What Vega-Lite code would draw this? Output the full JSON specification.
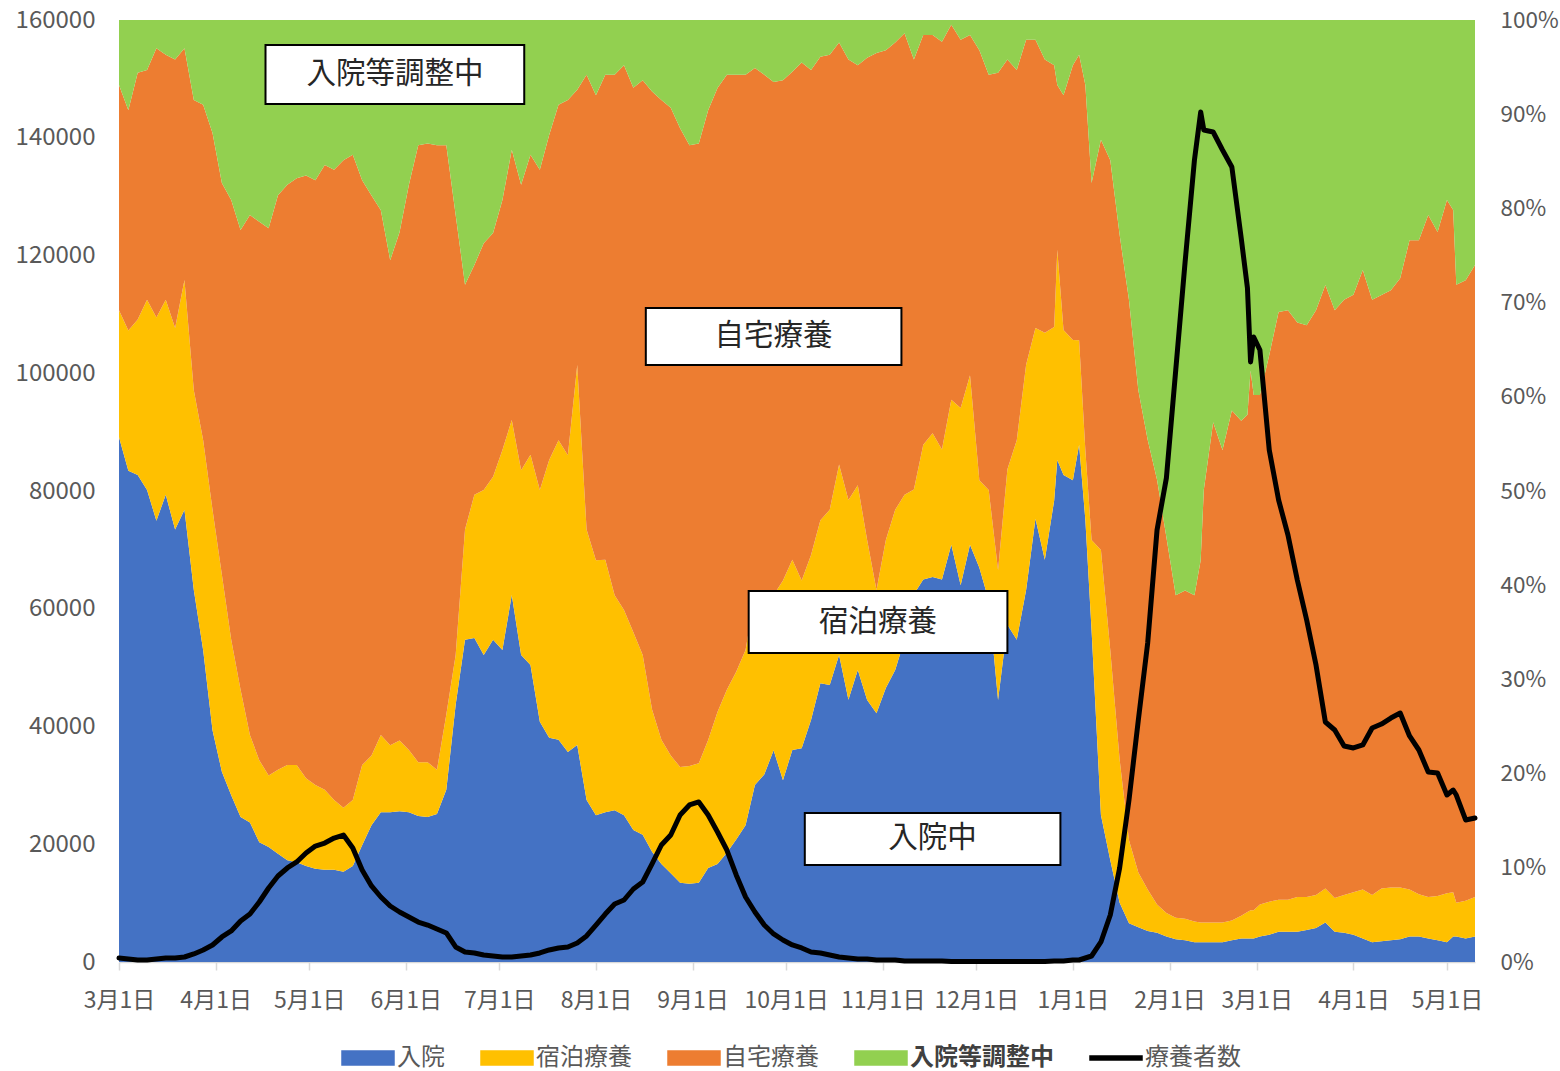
{
"$schema": "https://vega.github.io/schema/vega-lite/v6.json",
"width": 1356, "height": 942,
"autosize": {"type": "none"},
"padding": {"left": 119, "top": 20, "right": 85, "bottom": 109},
"background": "white",
"config": {"view": {"stroke": null}, "font": "Noto Sans CJK JP",
  "axis": {"labelFont": "Noto Sans CJK JP", "labelFontSize": 24, "labelColor": "#595959", "grid": false},
  "axisX": {"labelFontSize": 23}},
"datasets": {
"cats": [{"category":"入院","o":1},{"category":"宿泊療養","o":2},{"category":"自宅療養","o":3},{"category":"入院等調整中","o":4}],
"main": [
{"d":"2021-03-01","入院":55.7,"宿泊療養":13.5,"自宅療養":23.9,"入院等調整中":6.9,"療養者数":680},
{"d":"2021-03-04","入院":52.2,"宿泊療養":14.9,"自宅療養":23.4,"入院等調整中":9.6,"療養者数":510},
{"d":"2021-03-07","入院":51.7,"宿泊療養":16.5,"自宅療養":26.2,"入院等調整中":5.6,"療養者数":340},
{"d":"2021-03-10","入院":50.1,"宿泊療養":20.2,"自宅療養":24.4,"入院等調整中":5.3,"療養者数":340},
{"d":"2021-03-13","入院":46.9,"宿泊療養":21.6,"自宅療養":28.6,"入院等調整中":3.0,"療養者数":510},
{"d":"2021-03-16","入院":49.6,"宿泊療養":20.7,"自宅療養":26.0,"入院等調整中":3.7,"療養者数":680},
{"d":"2021-03-19","入院":45.9,"宿泊療養":21.4,"自宅療養":28.5,"入院等調整中":4.2,"療養者数":680},
{"d":"2021-03-22","入院":48.0,"宿泊療養":24.4,"自宅療養":24.6,"入院等調整中":3.0,"療養者数":850},
{"d":"2021-03-25","入院":39.5,"宿泊療養":21.2,"自宅療養":30.8,"入院等調整中":8.5,"療養者数":1360},
{"d":"2021-03-28","入院":33.1,"宿泊療養":22.3,"自宅療養":35.6,"入院等調整中":9.0,"療養者数":2040},
{"d":"2021-03-31","入院":24.6,"宿泊療養":23.4,"自宅療養":40.0,"入院等調整中":12.0,"療養者数":2890},
{"d":"2021-04-03","入院":20.2,"宿泊療養":20.9,"自宅療養":41.6,"入院等調整中":17.3,"療養者数":4250},
{"d":"2021-04-06","入院":17.7,"宿泊療養":16.5,"自宅療養":46.7,"入院等調整中":19.1,"療養者数":5270},
{"d":"2021-04-09","入院":15.4,"宿泊療養":13.5,"自宅療養":48.8,"入院等調整中":22.3,"療養者数":6960},
{"d":"2021-04-12","入院":14.8,"宿泊療養":9.3,"自宅療養":55.2,"入院等調整中":20.7,"療養者数":8150},
{"d":"2021-04-15","入院":12.7,"宿泊療養":8.7,"自宅療養":57.1,"入院等調整中":21.4,"療養者数":10190},
{"d":"2021-04-18","入院":12.2,"宿泊療養":7.6,"自宅療養":58.1,"入院等調整中":22.1,"療養者数":12570},
{"d":"2021-04-21","入院":11.5,"宿泊療養":8.9,"自宅療養":61.0,"入院等調整中":18.6,"療養者数":14610},
{"d":"2021-04-24","入院":10.8,"宿泊療養":10.1,"自宅療養":61.6,"入院等調整中":17.5,"療養者数":15970},
{"d":"2021-04-27","入院":10.6,"宿泊療養":10.3,"自宅療養":62.3,"入院等調整中":16.8,"療養者数":16990},
{"d":"2021-04-30","入院":10.2,"宿泊療養":9.3,"自宅療養":64.0,"入院等調整中":16.5,"療養者数":18510},
{"d":"2021-05-03","入院":9.9,"宿泊療養":8.9,"自宅療養":64.2,"入院等調整中":17.0,"療養者数":19700},
{"d":"2021-05-06","入院":9.8,"宿泊療養":8.5,"自宅療養":66.4,"入院等調整中":15.4,"療養者数":20210},
{"d":"2021-05-09","入院":9.8,"宿泊療養":7.4,"自宅療養":66.9,"入院等調整中":15.9,"療養者数":21060},
{"d":"2021-05-12","入院":9.6,"宿泊療養":6.8,"自宅療養":68.8,"入院等調整中":14.9,"療養者数":21570},
{"d":"2021-05-15","入院":10.2,"宿泊療養":7.0,"自宅療養":68.5,"入院等調整中":14.3,"療養者数":19360},
{"d":"2021-05-18","入院":12.4,"宿泊療養":8.5,"自宅療養":62.1,"入院等調整中":17.0,"療養者数":15630},
{"d":"2021-05-21","入院":14.5,"宿泊療養":7.4,"自宅療養":59.4,"入院等調整中":18.6,"療養者数":12910},
{"d":"2021-05-24","入院":15.9,"宿泊療養":8.2,"自宅療養":55.7,"入院等調整中":20.2,"療養者数":11040},
{"d":"2021-05-27","入院":15.9,"宿泊療養":7.1,"自宅療養":51.5,"入院等調整中":25.5,"療養者数":9510},
{"d":"2021-05-30","入院":16.0,"宿泊療養":7.5,"自宅療養":53.9,"入院等調整中":22.5,"療養者数":8490},
{"d":"2021-06-02","入院":15.9,"宿泊療養":6.6,"自宅療養":60.0,"入院等調整中":17.5,"療養者数":7640},
{"d":"2021-06-05","入院":15.5,"宿泊療養":5.7,"自宅療養":65.5,"入院等調整中":13.3,"療養者数":6790},
{"d":"2021-06-08","入院":15.4,"宿泊療養":5.8,"自宅療養":65.7,"入院等調整中":13.1,"療養者数":6280},
{"d":"2021-06-11","入院":15.7,"宿泊療養":4.7,"自宅療養":66.3,"入院等調整中":13.3,"療養者数":5610},
{"d":"2021-06-14","入院":18.3,"宿泊療養":8.0,"自宅療養":60.5,"入院等調整中":13.3,"療養者数":4930},
{"d":"2021-06-17","入院":27.3,"宿泊療養":5.3,"自宅療養":46.7,"入院等調整中":20.7,"療養者数":2550},
{"d":"2021-06-20","入院":34.2,"宿泊療養":11.7,"自宅療養":26.0,"入院等調整中":28.1,"療養者数":1700},
{"d":"2021-06-23","入院":34.4,"宿泊療養":15.2,"自宅療養":24.4,"入院等調整中":26.0,"療養者数":1530},
{"d":"2021-06-26","入院":32.6,"宿泊療養":17.5,"自宅療養":26.2,"入院等調整中":23.7,"療養者数":1190},
{"d":"2021-06-29","入院":34.2,"宿泊療養":17.3,"自宅療養":25.9,"入院等調整中":22.6,"療養者数":1020},
{"d":"2021-07-02","入院":33.1,"宿泊療養":21.2,"自宅療養":26.5,"入院等調整中":19.1,"療養者数":850},
{"d":"2021-07-05","入院":39.0,"宿泊療養":18.6,"自宅療養":28.7,"入院等調整中":13.8,"療養者数":850},
{"d":"2021-07-08","入院":32.6,"宿泊療養":19.6,"自宅療養":30.3,"入院等調整中":17.5,"療養者数":1020},
{"d":"2021-07-11","入院":31.5,"宿泊療養":22.3,"自宅療養":31.8,"入院等調整中":14.3,"療養者数":1190},
{"d":"2021-07-14","入院":25.5,"宿泊療養":24.6,"自宅療養":34.0,"入院等調整中":15.9,"療養者数":1530},
{"d":"2021-07-17","入院":23.8,"宿泊療養":29.5,"自宅療養":34.5,"入院等調整中":12.2,"療養者数":2040},
{"d":"2021-07-20","入院":23.6,"宿泊療養":31.8,"自宅療養":35.6,"入院等調整中":9.0,"療養者数":2380},
{"d":"2021-07-23","入院":22.3,"宿泊療養":31.5,"自宅療養":37.7,"入院等調整中":8.5,"療養者数":2550},
{"d":"2021-07-26","入院":23.0,"宿泊療養":40.3,"自宅療養":29.2,"入院等調整中":7.4,"療養者数":3230},
{"d":"2021-07-29","入院":17.2,"宿泊療養":28.7,"自宅療養":48.3,"入院等調整中":5.8,"療養者数":4420},
{"d":"2021-08-01","入院":15.6,"宿泊療養":27.1,"自宅療養":49.4,"入院等調整中":8.0,"療養者数":6280},
{"d":"2021-08-04","入院":15.9,"宿泊療養":26.8,"自宅療養":51.5,"入院等調整中":5.8,"療養者数":8150},
{"d":"2021-08-07","入院":16.1,"宿泊療養":22.8,"自宅療養":55.2,"入院等調整中":5.8,"療養者数":9850},
{"d":"2021-08-10","入院":15.6,"宿泊療養":21.8,"自宅療養":57.9,"入院等調整中":4.8,"療養者数":10530},
{"d":"2021-08-13","入院":14.0,"宿泊療養":21.0,"自宅療養":57.8,"入院等調整中":7.2,"療養者数":12400},
{"d":"2021-08-16","入院":13.5,"宿泊療養":19.1,"自宅療養":61.0,"入院等調整中":6.4,"療養者数":13590},
{"d":"2021-08-19","入院":11.7,"宿泊療養":15.1,"自宅療養":65.6,"入院等調整中":7.6,"療養者数":16650},
{"d":"2021-08-22","入院":10.4,"宿泊療養":13.2,"自宅療養":67.9,"入院等調整中":8.5,"療養者数":19870},
{"d":"2021-08-25","入院":9.4,"宿泊療養":12.5,"自宅療養":68.7,"入院等調整中":9.3,"療養者数":21570},
{"d":"2021-08-28","入院":8.4,"宿泊療養":12.3,"自宅療養":67.8,"入院等調整中":11.5,"療養者数":24970},
{"d":"2021-08-31","入院":8.3,"宿泊療養":12.5,"自宅療養":65.9,"入院等調整中":13.3,"療養者数":26670},
{"d":"2021-09-03","入院":8.4,"宿泊療養":12.7,"自宅療養":65.8,"入院等調整中":13.1,"療養者数":27180},
{"d":"2021-09-06","入院":10.0,"宿泊療養":13.6,"自宅療養":66.9,"入院等調整中":9.6,"療養者数":24970},
{"d":"2021-09-09","入院":10.4,"宿泊療養":16.1,"自宅療養":66.2,"入院等調整中":7.2,"療養者数":22080},
{"d":"2021-09-12","入院":11.6,"宿泊療養":17.3,"自宅療養":65.3,"入院等調整中":5.8,"療養者数":19020},
{"d":"2021-09-15","入院":13.0,"宿泊療養":17.8,"自宅療養":63.4,"入院等調整中":5.8,"療養者数":14780},
{"d":"2021-09-18","入院":14.5,"宿泊療養":18.6,"自宅療養":61.0,"入院等調整中":5.8,"療養者数":11040},
{"d":"2021-09-21","入院":18.8,"宿泊療養":20.2,"自宅療養":55.9,"入院等調整中":5.1,"療養者数":8490},
{"d":"2021-09-24","入院":19.9,"宿泊療養":19.6,"自宅療養":54.7,"入院等調整中":5.8,"療養者数":6280},
{"d":"2021-09-27","入院":22.5,"宿泊療養":16.5,"自宅療養":54.5,"入院等調整中":6.6,"療養者数":4760},
{"d":"2021-09-30","入院":19.3,"宿泊療養":21.2,"自宅療養":53.1,"入院等調整中":6.4,"療養者数":3740},
{"d":"2021-10-03","入院":22.5,"宿泊療養":20.2,"自宅療養":51.8,"入院等調整中":5.5,"療養者数":2890},
{"d":"2021-10-06","入院":22.7,"宿泊療養":17.8,"自宅療養":55.0,"入院等調整中":4.5,"療養者数":2380},
{"d":"2021-10-09","入院":25.7,"宿泊療養":17.5,"自宅療養":51.5,"入院等調整中":5.3,"療養者数":1700},
{"d":"2021-10-12","入院":29.6,"宿泊療養":17.3,"自宅療養":49.2,"入院等調整中":3.9,"療養者数":1530},
{"d":"2021-10-15","入院":29.4,"宿泊療養":18.6,"自宅療養":48.3,"入院等調整中":3.7,"療養者数":1190},
{"d":"2021-10-18","入院":32.6,"宿泊療養":20.2,"自宅療養":44.8,"入院等調整中":2.4,"療養者数":850},
{"d":"2021-10-21","入院":27.8,"宿泊療養":21.2,"自宅療養":46.7,"入院等調整中":4.2,"療養者数":680},
{"d":"2021-10-24","入院":31.0,"宿泊療養":19.6,"自宅療養":44.6,"入院等調整中":4.8,"療養者数":510},
{"d":"2021-10-27","入院":27.8,"宿泊療養":17.0,"自宅療養":51.2,"入院等調整中":4.0,"療養者数":510},
{"d":"2021-10-30","入院":26.4,"宿泊療養":13.1,"自宅療養":57.0,"入院等調整中":3.5,"療養者数":340},
{"d":"2021-11-02","入院":29.1,"宿泊療養":15.7,"自宅療養":52.0,"入院等調整中":3.2,"療養者数":340},
{"d":"2021-11-05","入院":31.0,"宿泊療養":17.0,"自宅療養":49.6,"入院等調整中":2.4,"療養者数":340},
{"d":"2021-11-08","入院":34.2,"宿泊療養":15.4,"自宅療養":49.0,"入院等調整中":1.4,"療養者数":170},
{"d":"2021-11-11","入院":39.0,"宿泊療養":11.1,"自宅療養":45.6,"入院等調整中":4.2,"療養者数":170},
{"d":"2021-11-14","入院":40.6,"宿泊療養":14.3,"自宅療養":43.5,"入院等調整中":1.6,"療養者数":170},
{"d":"2021-11-17","入院":40.9,"宿泊療養":15.3,"自宅療養":42.3,"入院等調整中":1.6,"療養者数":170},
{"d":"2021-11-20","入院":40.6,"宿泊療養":13.8,"自宅療養":43.3,"入院等調整中":2.3,"療養者数":170},
{"d":"2021-11-23","入院":44.3,"宿泊療養":15.4,"自宅療養":39.8,"入院等調整中":0.5,"療養者数":100},
{"d":"2021-11-26","入院":40.0,"宿泊療養":18.8,"自宅療養":39.1,"入院等調整中":2.1,"療養者数":80},
{"d":"2021-11-29","入院":44.3,"宿泊療養":18.0,"自宅療養":36.1,"入院等調整中":1.6,"療養者数":80},
{"d":"2021-12-02","入院":41.8,"宿泊療養":9.3,"自宅療養":45.6,"入院等調整中":3.2,"療養者数":80},
{"d":"2021-12-05","入院":38.4,"宿泊療養":11.7,"自宅療養":44.1,"入院等調整中":5.8,"療養者数":80},
{"d":"2021-12-08","入院":27.8,"宿泊療養":13.8,"自宅療養":52.8,"入院等調整中":5.6,"療養者数":80},
{"d":"2021-12-11","入院":35.8,"宿泊療養":16.5,"自宅療養":43.5,"入院等調整中":4.2,"療養者数":80},
{"d":"2021-12-14","入院":34.2,"宿泊療養":21.2,"自宅療養":39.3,"入院等調整中":5.3,"療養者数":80},
{"d":"2021-12-17","入院":39.5,"宿泊療養":23.9,"自宅療養":34.5,"入院等調整中":2.1,"療養者数":80},
{"d":"2021-12-20","入院":46.9,"宿泊療養":20.2,"自宅療養":30.5,"入院等調整中":2.1,"療養者数":80},
{"d":"2021-12-23","入院":42.7,"宿泊療養":24.1,"自宅療養":29.0,"入院等調整中":4.2,"療養者数":100},
{"d":"2021-12-26","入院":49.0,"宿泊療養":18.4,"自宅療養":27.8,"入院等調整中":4.8,"療養者数":170},
{"d":"2021-12-27","入院":53.3,"宿泊療養":22.3,"自宅療養":17.5,"入院等調整中":6.9,"療養者数":170},
{"d":"2021-12-29","入院":51.7,"宿泊療養":15.4,"自宅療養":24.9,"入院等調整中":8.0,"療養者数":170},
{"d":"2022-01-01","入院":51.2,"宿泊療養":14.9,"自宅療養":29.2,"入院等調整中":4.8,"療養者数":340},
{"d":"2022-01-03","入院":54.9,"宿泊療養":11.1,"自宅療養":30.3,"入院等調整中":3.7,"療養者数":340},
{"d":"2022-01-05","入院":46.9,"宿泊療養":7.4,"自宅療養":38.7,"入院等調整中":6.9,"療養者数":680},
{"d":"2022-01-07","入院":35.2,"宿泊療養":9.6,"自宅療養":37.9,"入院等調整中":17.3,"療養者数":1020},
{"d":"2022-01-10","入院":15.6,"宿泊療養":28.1,"自宅療養":43.5,"入院等調整中":12.7,"療養者数":3400},
{"d":"2022-01-13","入院":10.8,"宿泊療養":22.3,"自宅療養":52.0,"入院等調整中":14.9,"療養者数":7980},
{"d":"2022-01-16","入院":6.3,"宿泊療養":15.2,"自宅療養":55.7,"入院等調整中":22.8,"療養者数":15970},
{"d":"2022-01-19","入院":4.1,"宿泊療養":8.8,"自宅療養":57.3,"入院等調整中":29.7,"療養者数":27520},
{"d":"2022-01-22","入院":3.7,"宿泊療養":5.8,"自宅療養":51.2,"入院等調整中":39.3,"療養者数":41100},
{"d":"2022-01-25","入院":3.3,"宿泊療養":4.4,"自宅療養":47.8,"入院等調整中":44.6,"療養者数":54180},
{"d":"2022-01-28","入院":3.1,"宿泊療養":3.0,"自宅療養":45.1,"入院等調整中":48.8,"療養者数":73380},
{"d":"2022-01-31","入院":2.7,"宿泊療養":2.5,"自宅療養":39.9,"入院等調整中":54.9,"療養者数":82210},
{"d":"2022-02-03","入院":2.4,"宿泊療養":2.3,"自宅療養":34.2,"入院等調整中":61.0,"療養者数":100550},
{"d":"2022-02-06","入院":2.3,"宿泊療養":2.3,"自宅療養":34.8,"入院等調整中":60.5,"療養者数":118900},
{"d":"2022-02-09","入院":2.1,"宿泊療養":2.2,"自宅療養":34.6,"入院等調整中":61.0,"療養者数":136220},
{"d":"2022-02-11","入院":2.1,"宿泊療養":2.1,"自宅療養":38.4,"入院等調整中":57.3,"療養者数":144370},
{"d":"2022-02-12","入院":2.1,"宿泊療養":2.1,"自宅療養":45.9,"入院等調整中":49.9,"療養者数":141310},
{"d":"2022-02-15","入院":2.1,"宿泊療養":2.1,"自宅療養":53.1,"入院等調整中":42.7,"療養者数":140980},
{"d":"2022-02-18","入院":2.1,"宿泊療養":2.1,"自宅療養":50.1,"入院等調整中":45.6,"療養者数":137920},
{"d":"2022-02-21","入院":2.3,"宿泊療養":2.1,"自宅療養":54.1,"入院等調整中":41.4,"療養者数":135030},
{"d":"2022-02-24","入院":2.5,"宿泊療養":2.4,"自宅療養":52.5,"入院等調整中":42.5,"療養者数":122970},
{"d":"2022-02-26","入院":2.5,"宿泊療養":2.8,"自宅療養":52.8,"入院等調整中":41.9,"療養者数":114480},
{"d":"2022-02-27","入院":2.5,"宿泊療養":3.0,"自宅療養":57.3,"入院等調整中":37.2,"療養者数":101910},
{"d":"2022-02-28","入院":2.5,"宿泊療養":3.0,"自宅療養":54.7,"入院等調整中":39.8,"療養者数":106160},
{"d":"2022-03-02","入院":2.7,"宿泊療養":3.4,"自宅療養":54.1,"入院等調整中":39.8,"療養者数":103950},
{"d":"2022-03-05","入院":2.9,"宿泊療養":3.5,"自宅療養":58.1,"入院等調整中":35.6,"療養者数":86960},
{"d":"2022-03-08","入院":3.2,"宿泊療養":3.4,"自宅療養":62.4,"入院等調整中":31.0,"療養者数":78470},
{"d":"2022-03-11","入院":3.2,"宿泊療養":3.4,"自宅療養":62.6,"入院等調整中":30.8,"療養者数":72530},
{"d":"2022-03-14","入院":3.2,"宿泊療養":3.7,"自宅療養":61.0,"入院等調整中":32.1,"療養者数":64880},
{"d":"2022-03-17","入院":3.4,"宿泊療養":3.5,"自宅療養":60.7,"入院等調整中":32.4,"療養者数":58090},
{"d":"2022-03-20","入院":3.6,"宿泊療養":3.5,"自宅療養":62.1,"入院等調整中":30.8,"療養者数":50440},
{"d":"2022-03-23","入院":4.2,"宿泊療養":3.6,"自宅療養":64.0,"入院等調整中":28.1,"療養者数":40760},
{"d":"2022-03-26","入院":3.2,"宿泊療養":3.6,"自宅療養":62.4,"入院等調整中":30.8,"療養者数":39410},
{"d":"2022-03-29","入院":3.1,"宿泊療養":4.0,"自宅療養":63.2,"入院等調整中":29.7,"療養者数":36690},
{"d":"2022-04-01","入院":2.9,"宿泊療養":4.5,"自宅療養":63.5,"入院等調整中":29.2,"療養者数":36350},
{"d":"2022-04-04","入院":2.5,"宿泊療養":5.2,"自宅療養":65.7,"入院等調整中":26.5,"療養者数":36860},
{"d":"2022-04-07","入院":2.1,"宿泊療養":5.0,"自宅療養":63.2,"入院等調整中":29.7,"療養者数":39740},
{"d":"2022-04-10","入院":2.2,"宿泊療養":5.6,"自宅療養":63.0,"入院等調整中":29.2,"療養者数":40420},
{"d":"2022-04-13","入院":2.3,"宿泊療養":5.6,"自宅療養":63.4,"入院等調整中":28.7,"療養者数":41440},
{"d":"2022-04-16","入院":2.4,"宿泊療養":5.5,"自宅療養":64.6,"入院等調整中":27.4,"療養者数":42290},
{"d":"2022-04-19","入院":2.7,"宿泊療養":5.0,"自宅療養":69.0,"入院等調整中":23.4,"療養者数":38390},
{"d":"2022-04-22","入院":2.7,"宿泊療養":4.5,"自宅療養":69.5,"入院等調整中":23.4,"療養者数":36010},
{"d":"2022-04-25","入院":2.5,"宿泊療養":4.4,"自宅療養":72.4,"入院等調整中":20.7,"療養者数":32270},
{"d":"2022-04-28","入院":2.3,"宿泊療養":4.7,"自宅療養":70.5,"入院等調整中":22.5,"療養者数":32100},
{"d":"2022-05-01","入院":2.1,"宿泊療養":5.2,"自宅療養":73.6,"入院等調整中":19.1,"療養者数":28360},
{"d":"2022-05-03","入院":2.7,"宿泊療養":4.7,"自宅療養":72.5,"入院等調整中":20.2,"療養者数":29210},
{"d":"2022-05-04","入院":2.7,"宿泊療養":3.6,"自宅療養":65.6,"入院等調整中":28.1,"療養者数":28360},
{"d":"2022-05-07","入院":2.5,"宿泊療養":4.0,"自宅療養":65.8,"入院等調整中":27.6,"療養者数":24120},
{"d":"2022-05-10","入院":2.7,"宿泊療養":4.2,"自宅療養":67.1,"入院等調整中":26.0,"療養者数":24460}
],
"boxes": [
{"label":"入院等調整中","x1":"2021-04-17","x2":"2021-07-09","xc":"2021-05-28T12:00:00Z","y1":0.9735,"y2":0.9108,"yc":0.9427},
{"label":"自宅療養","x1":"2021-08-17","x2":"2021-11-07","xc":"2021-09-27T00:00:00Z","y1":0.6943,"y2":0.6338,"yc":0.6645},
{"label":"宿泊療養","x1":"2021-09-19","x2":"2021-12-11","xc":"2021-10-30T12:00:00Z","y1":0.3938,"y2":0.3280,"yc":0.3609},
{"label":"入院中","x1":"2021-10-07","x2":"2021-12-28","xc":"2021-11-17T00:00:00Z","y1":0.1582,"y2":0.1030,"yc":0.1316}
]
},
"layer": [
{"layer": [
  {"data": {"name": "main"},
   "transform": [
     {"fold": ["入院","宿泊療養","自宅療養","入院等調整中"], "as": ["category","share"]},
     {"lookup": "category", "from": {"data": {"name": "cats"}, "key": "category", "fields": ["o"]}}
   ],
   "mark": {"type": "area", "interpolate": "linear"},
   "encoding": {
     "x": {"field": "d", "type": "temporal", "title": null,
       "scale": {"type": "utc", "domain": [{"year":2021,"month":3,"date":1,"utc":true},{"year":2022,"month":5,"date":10,"utc":true}], "nice": false},
       "axis": {"values": [
         {"year":2021,"month":3,"date":1,"utc":true},{"year":2021,"month":4,"date":1,"utc":true},{"year":2021,"month":5,"date":1,"utc":true},
         {"year":2021,"month":6,"date":1,"utc":true},{"year":2021,"month":7,"date":1,"utc":true},{"year":2021,"month":8,"date":1,"utc":true},
         {"year":2021,"month":9,"date":1,"utc":true},{"year":2021,"month":10,"date":1,"utc":true},{"year":2021,"month":11,"date":1,"utc":true},
         {"year":2021,"month":12,"date":1,"utc":true},{"year":2022,"month":1,"date":1,"utc":true},{"year":2022,"month":2,"date":1,"utc":true},
         {"year":2022,"month":3,"date":1,"utc":true},{"year":2022,"month":4,"date":1,"utc":true},{"year":2022,"month":5,"date":1,"utc":true}],
         "labelExpr": "utcFormat(datum.value, '%-m月%-d日')", "labelPadding": 19, "tickSize": 8, "tickColor": "#d9d9d9", "tickWidth": 1.5,
         "domainColor": "#d9d9d9", "domainWidth": 1.5, "labelOverlap": false, "labelFlush": false}},
     "y": {"field": "share", "type": "quantitative", "stack": "normalize", "title": null,
       "scale": {"domain": [0, 1], "nice": false},
       "axis": {"orient": "right", "values": [0,0.1,0.2,0.3,0.4,0.5,0.6,0.7,0.8,0.9,1], "format": ".0%", "domain": false, "ticks": false, "labelPadding": 25, "labelFontSize": 22.5}},
     "order": {"field": "o", "type": "quantitative", "sort": "ascending"},
     "color": {"field": "category", "type": "nominal",
       "scale": {"domain": ["入院","宿泊療養","自宅療養","入院等調整中","療養者数"], "range": ["#4472C4","#FFC000","#ED7D31","#92D050","#000000"]},
       "legend": {"orient": "none", "legendX": 222, "legendY": 1011, "direction": "horizontal", "columns": 5, "title": null,
         "symbolSize": 2704, "labelFontSize": 24, "labelColor": "#595959", "labelFont": "Noto Sans CJK JP", "labelOffset": 2, "columnPadding": 33, "labelLimit": 300,
         "encode": {
           "symbols": {"update": {
             "shape": {"signal": "datum.value === '療養者数' ? 'M-1,-0.08H1V0.08H-1Z' : 'M-1,-0.27H1V0.27H-1Z'"},
             "fill": {"scale": "color", "field": "value"},
             "stroke": {"value": "transparent"},
             "opacity": {"value": 1}}},
           "labels": {"update": {
             "fontWeight": {"signal": "datum.value === '入院等調整中' ? 'bold' : 'normal'"},
             "fill": {"signal": "datum.value === '入院等調整中' ? '#404040' : '#595959'"}}}}}}
   }},
  {"data": {"name": "boxes"},
   "mark": {"type": "rect", "fill": "white", "stroke": "black", "strokeWidth": 2},
   "encoding": {
     "x": {"field": "x1", "type": "temporal", "title": null},
     "x2": {"field": "x2"},
     "y": {"field": "y1", "type": "quantitative", "title": null},
     "y2": {"field": "y2"}}},
  {"data": {"name": "boxes"},
   "mark": {"type": "text", "fontSize": 29.5, "color": "#262626", "font": "Noto Sans CJK JP", "baseline": "middle", "align": "center"},
   "encoding": {
     "x": {"field": "xc", "type": "temporal", "title": null},
     "y": {"field": "yc", "type": "quantitative", "title": null},
     "text": {"field": "label"}}}
]},
{"data": {"name": "main"},
 "mark": {"type": "line", "strokeWidth": 5, "strokeJoin": "round", "strokeCap": "round"},
 "encoding": {
   "x": {"field": "d", "type": "temporal", "title": null,
     "axis": {"values": [
         {"year":2021,"month":3,"date":1,"utc":true},{"year":2021,"month":4,"date":1,"utc":true},{"year":2021,"month":5,"date":1,"utc":true},
         {"year":2021,"month":6,"date":1,"utc":true},{"year":2021,"month":7,"date":1,"utc":true},{"year":2021,"month":8,"date":1,"utc":true},
         {"year":2021,"month":9,"date":1,"utc":true},{"year":2021,"month":10,"date":1,"utc":true},{"year":2021,"month":11,"date":1,"utc":true},
         {"year":2021,"month":12,"date":1,"utc":true},{"year":2022,"month":1,"date":1,"utc":true},{"year":2022,"month":2,"date":1,"utc":true},
         {"year":2022,"month":3,"date":1,"utc":true},{"year":2022,"month":4,"date":1,"utc":true},{"year":2022,"month":5,"date":1,"utc":true}],
         "labelExpr": "utcFormat(datum.value, '%-m月%-d日')", "labelPadding": 19, "tickSize": 8, "tickColor": "#d9d9d9", "tickWidth": 1.5,
         "domainColor": "#d9d9d9", "domainWidth": 1.5, "labelOverlap": false, "labelFlush": false}},
   "y": {"field": "療養者数", "type": "quantitative", "title": null,
     "scale": {"domain": [0, 160000], "nice": false},
     "axis": {"orient": "left", "values": [0,20000,40000,60000,80000,100000,120000,140000,160000], "format": "d", "domain": false, "ticks": false, "labelPadding": 24}},
   "color": {"datum": "療養者数"}}}
],
"resolve": {"scale": {"y": "independent"}}
}
